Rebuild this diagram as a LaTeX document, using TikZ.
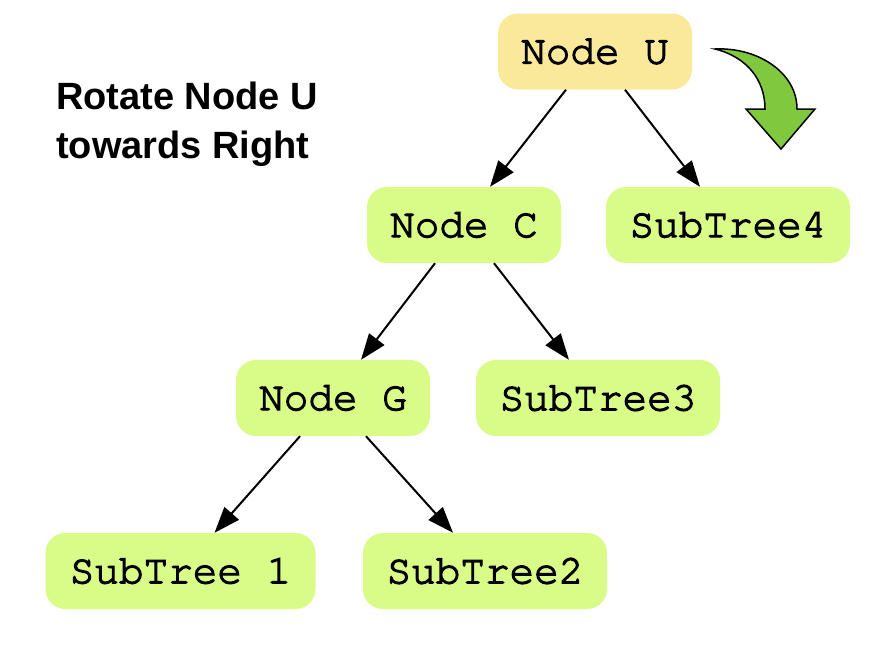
\documentclass[tikz,border=0pt]{standalone}
\usepackage{fontspec}
\setmainfont{Liberation Sans}
\newfontfamily\monof[Extension=.otf, FakeBold=3]{texgyrecursor-regular}
\usetikzlibrary{arrows.meta}
\definecolor{nodeyellow}{HTML}{FBE99B}
\definecolor{nodegreen}{HTML}{D9FB88}
\definecolor{arrowgreen}{HTML}{80C83E}
\tikzset{
  treebox/.style={fill=nodegreen, draw=none, rounded corners=20pt, minimum height=76pt, inner sep=0pt, font=\monof\fontsize{41}{41}\selectfont},
  rootbox/.style={treebox, fill=nodeyellow},
  edge/.style={line width=2pt, -{Triangle[length=26pt,width=19pt]}},
  titletext/.style={anchor=base west, inner sep=0pt, font=\bfseries\fontsize{38}{48}\selectfont}
}
\begin{document}
\begin{tikzpicture}[x=1pt,y=-1pt]
\useasboundingbox (0,0) rectangle (892,654);
\node[rootbox, minimum width=194pt] (U) at (595,51.5) {Node U};
\node[treebox, minimum width=194pt] (C) at (464,225) {Node C};
\node[treebox, minimum width=244pt] (S4) at (728,225) {SubTree4};
\node[treebox, minimum width=194pt] (G) at (333,398) {Node G};
\node[treebox, minimum width=244pt] (S3) at (598,398) {SubTree3};
\node[treebox, minimum width=270pt] (S1) at (180.5,571) {SubTree 1};
\node[treebox, minimum width=244pt] (S2) at (485,571) {SubTree2};
\node[titletext] (t1) at (56,109) {Rotate Node U};
\node[titletext] (t2) at (56,158) {towards Right};
\draw[edge] ([xshift=-29pt]U.south) -- ([xshift=26pt]C.north);
\draw[edge] ([xshift=30pt]U.south) -- ([xshift=-28pt]S4.north);
\draw[edge] ([xshift=-29pt]C.south) -- ([xshift=28pt]G.north);
\draw[edge] ([xshift=30pt]C.south) -- ([xshift=-29pt]S3.north);
\draw[edge] ([xshift=-33pt]G.south) -- ([xshift=34pt]S1.north);
\draw[edge] ([xshift=33pt]G.south) -- ([xshift=-32pt]S2.north);
\draw[fill=arrowgreen, line width=1.5pt, line join=miter]
  (715,49) .. controls (757,47) and (797,72) .. (797,109) -- (815,109) -- (781,149) -- (746,109) -- (765,109)
  .. controls (765,80) and (747,57) .. (715,49) -- cycle;
\end{tikzpicture}
\end{document}
